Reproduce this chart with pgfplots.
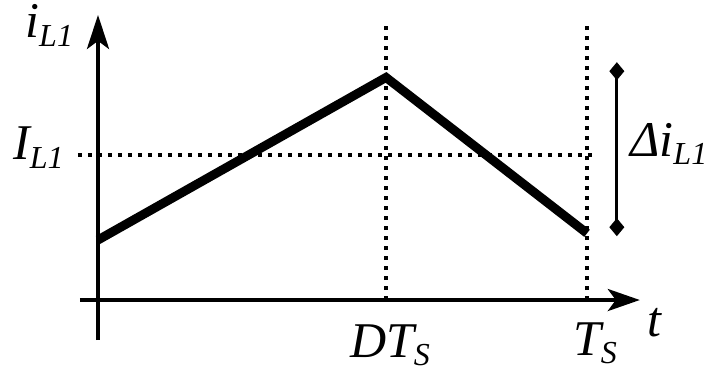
\documentclass[border=0pt]{standalone}
\usepackage{pgfplots}
\pgfplotsset{compat=1.18}
\usepackage{fontspec}
\setmainfont{Liberation Serif}
\usetikzlibrary{arrows.meta}

% label helpers: italic symbol with a lowered italic subscript
\newcommand{\bigf}{\fontsize{50}{56}\selectfont\itshape}
\newcommand{\lab}[2]{{\bigf #1\raisebox{-0.17em}{\fontsize{32}{34}\selectfont #2}}}

\begin{document}
\begin{tikzpicture}
\begin{axis}[
  hide axis, clip=false,
  x=489pt, y=145pt,
  xmin=-0.2004, xmax=1.2556,
  ymin=-0.510, ymax=2.069,
]
% guide lines
\addplot[black, line width=4.5pt, line cap=butt, dash pattern=on 4.5pt off 5.5pt]
  coordinates {(-0.041,1) (1.022,1)};
\addplot[black, line width=4.5pt, line cap=butt, dash pattern=on 4.5pt off 5.5pt]
  coordinates {(0.589,0.0) (0.589,1.917)};
\addplot[black, line width=4.5pt, line cap=butt, dash pattern=on 4.5pt off 5.5pt]
  coordinates {(1.0,0.0) (1.0,1.917)};
% axes
\addplot[black, line width=4pt, -{Stealth[length=32pt, width=22pt, inset=8pt]}]
  coordinates {(-0.037,0) (1.108,0)};
\addplot[black, line width=4pt, -{Stealth[length=34pt, width=22pt, inset=8pt]}]
  coordinates {(0,-0.276) (0,1.966)};
% inductor current
\addplot[black, line width=9pt, line join=miter]
  coordinates {(0,0.414) (0.589,1.535) (1.0,0.46)};
% ripple marker
\addplot[black, line width=3pt, {Diamond[length=18pt, width=15pt]}-{Diamond[length=18pt, width=15pt]}]
  coordinates {(1.061,1.64) (1.061,0.44)};
% labels
\node[anchor=base west, inner sep=0pt] at (axis cs:-0.149,1.807) {\lab{i}{L1}};
\node[anchor=base west, inner sep=0pt] at (axis cs:-0.174,0.966) {\lab{I}{L1}};
\node[anchor=base west, inner sep=0pt] at (axis cs:1.088,0.993) {\lab{Δi}{L1}};
\node[anchor=base west, inner sep=0pt] at (axis cs:0.515,-0.393) {\lab{DT}{S}};
\node[anchor=base west, inner sep=0pt] at (axis cs:0.971,-0.380) {\lab{T}{S}};
\node[anchor=base west, inner sep=0pt] at (axis cs:1.123,-0.255) {\bigf t};
\coordinate (sw) at (axis cs:-0.2004,-0.510);
\coordinate (ne) at (axis cs:1.2556,2.069);
\end{axis}
\pgfresetboundingbox
\useasboundingbox (sw) rectangle (ne);
\end{tikzpicture}
\end{document}
